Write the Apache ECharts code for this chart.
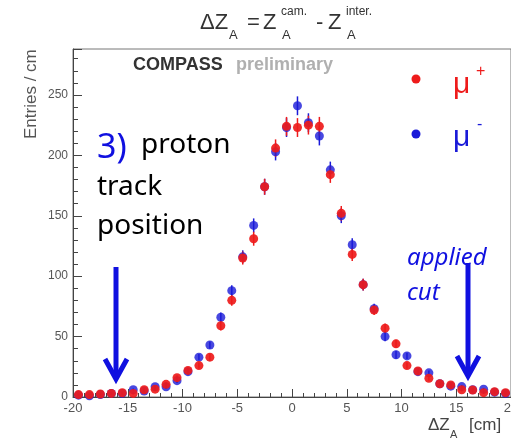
<!DOCTYPE html>
<html>
<head>
<meta charset="utf-8">
<script src="https://cdn.jsdelivr.net/npm/echarts@6/dist/echarts.min.js"></script>
<style>
  html, body { margin: 0; padding: 0; background: #fff; }
  #chart { width: 511px; height: 442px; }
</style>
</head>
<body>
<div id="chart"></div>
<script>
// bin centres (cm), 1 cm bins from -20 to 20
var binCenters = [-19.5, -18.5, -17.5, -16.5, -15.5, -14.5, -13.5, -12.5, -11.5, -10.5,
  -9.5, -8.5, -7.5, -6.5, -5.5, -4.5, -3.5, -2.5, -1.5, -0.5,
  0.5, 1.5, 2.5, 3.5, 4.5, 5.5, 6.5, 7.5, 8.5, 9.5,
  10.5, 11.5, 12.5, 13.5, 14.5, 15.5, 16.5, 17.5, 18.5, 19.5];

// mu+ (red)
var muPlus = [2, 2, 2.5, 3, 3.5, 3, 6, 6.5, 10.5, 16,
  22, 26, 33, 59, 80, 115, 131, 174, 206, 224,
  223, 225, 224, 184, 152, 118, 93, 72, 57, 44,
  26, 21.5, 15.5, 11, 10, 6, 5.8, 3.6, 4.4, 3.6];

// mu- (blue)
var muMinus = [1.5, 1, 2, 3, 3, 6, 5, 8.5, 8.5, 13.5,
  21, 33, 43, 66, 88, 116, 142, 174, 203, 223,
  241, 227, 216, 188, 150, 126, 93, 73, 50, 35,
  34, 21, 20, 11, 9, 8.6, 6, 6.4, 4, 3];

// half length of the error bars
var errBar = [0.8, 0.8, 0.9, 1, 1, 1, 1.3, 1.4, 1.7, 2,
  2.4, 2.6, 3, 3.9, 4.5, 5.4, 5.8, 6.6, 7.2, 7.8,
  7.8, 7.8, 7.8, 6.8, 6.1, 5.4, 4.8, 4.2, 3.8, 3.3,
  2.6, 2.3, 2, 1.7, 1.6, 1.3, 1.2, 1, 1, 1];

var xTicks = [-20, -15, -10, -5, 0, 5, 10, 15, 20];
var yTicks = [0, 50, 100, 150, 200, 250];

var RED = '#ee1b1b';
var BLUE = '#1a1ad8';

function points(vals) {
  return binCenters.map(function (x, i) { return [x, vals[i], errBar[i]]; });
}

function errSeries(vals, color) {
  return {
    type: 'custom',
    silent: true,
    z: 2,
    data: points(vals),
    renderItem: function (params, api) {
      var lo = api.coord([api.value(0), api.value(1) - api.value(2)]);
      var hi = api.coord([api.value(0), api.value(1) + api.value(2)]);
      return {
        type: 'line',
        shape: { x1: lo[0], y1: lo[1], x2: hi[0], y2: hi[1] },
        style: { stroke: color, lineWidth: 1.5 }
      };
    }
  };
}

var axisFont = 'Liberation Sans, Arial, sans-serif';

var myChart = echarts.init(document.getElementById('chart'));

var option = {
  animation: false,
  grid: {
    left: 73, right: 0, top: 49, bottom: 45,
    outerBoundsMode: 'none',
    containLabel: false,
    show: true, borderColor: '#777', borderWidth: 1
  },
  xAxis: {
    type: 'value',
    min: -20, max: 20, interval: 5,
    axisLine: { onZero: false, lineStyle: { color: '#444', width: 1 } },
    axisTick: { inside: true, length: 8, lineStyle: { color: '#444' } },
    minorTick: { show: true, splitNumber: 5, length: 4, lineStyle: { color: '#444' } },
    splitLine: { show: false },
    axisLabel: {
      color: '#555', fontSize: 13, fontFamily: axisFont, margin: 5,
      formatter: function (v) { return xTicks.indexOf(v) >= 0 ? String(v) : ''; }
    }
  },
  yAxis: {
    type: 'value',
    min: 0, max: 288, interval: 50,
    axisLine: { show: true, onZero: false, lineStyle: { color: '#444', width: 1 } },
    axisTick: { show: true, inside: true, length: 9, lineStyle: { color: '#444' } },
    minorTick: { show: true, splitNumber: 5, length: 5, lineStyle: { color: '#444' } },
    splitLine: { show: false },
    axisLabel: {
      color: '#555', fontSize: 12, fontFamily: axisFont, margin: 5,
      formatter: function (v) { return yTicks.indexOf(v) >= 0 ? String(v) : ''; }
    }
  },
  series: [
    errSeries(muMinus, BLUE),
    {
      name: 'mu-', type: 'scatter', z: 3,
      symbol: 'circle', symbolSize: 9,
      itemStyle: { color: BLUE },
      data: points(muMinus)
    },
    errSeries(muPlus, RED),
    {
      name: 'mu+', type: 'scatter', z: 4,
      symbol: 'circle', symbolSize: 9,
      itemStyle: { color: RED, opacity: 0.92 },
      data: points(muPlus)
    }
  ],
  graphic: [
    // title: dZ_A = Z_A^cam. - Z_A^inter.
    { type: 'text', left: 200, top: 12, style: { text: '\u0394Z', font: '22px ' + axisFont, fill: '#333' } },
    { type: 'text', left: 229, top: 29, style: { text: 'A', font: '13px ' + axisFont, fill: '#333' } },
    { type: 'text', left: 247, top: 12, style: { text: '=', font: '22px ' + axisFont, fill: '#333' } },
    { type: 'text', left: 263, top: 12, style: { text: 'Z', font: '22px ' + axisFont, fill: '#333' } },
    { type: 'text', left: 281, top: 6, style: { text: 'cam.', font: '12px ' + axisFont, fill: '#333' } },
    { type: 'text', left: 282, top: 29, style: { text: 'A', font: '13px ' + axisFont, fill: '#333' } },
    { type: 'text', left: 316, top: 12, style: { text: '-', font: '22px ' + axisFont, fill: '#333' } },
    { type: 'text', left: 328, top: 12, style: { text: 'Z', font: '22px ' + axisFont, fill: '#333' } },
    { type: 'text', left: 346, top: 6, style: { text: 'inter.', font: '12px ' + axisFont, fill: '#333' } },
    { type: 'text', left: 347, top: 29, style: { text: 'A', font: '13px ' + axisFont, fill: '#333' } },

    // y axis title
    {
      type: 'text', x: 23, y: 139, rotation: Math.PI / 2,
      style: { text: 'Entries / cm', font: '17px ' + axisFont, fill: '#555', textAlign: 'left', textBaseline: 'top' }
    },
    // x axis title
    { type: 'text', left: 428, top: 417, style: { text: '\u0394Z', font: '17px ' + axisFont, fill: '#444' } },
    { type: 'text', left: 450, top: 429, style: { text: 'A', font: '11px ' + axisFont, fill: '#444' } },
    { type: 'text', left: 469, top: 417, style: { text: '[cm]', font: '17px ' + axisFont, fill: '#444' } },

    // COMPASS preliminary
    { type: 'text', left: 133, top: 56, style: { text: 'COMPASS', font: 'bold 18px ' + axisFont, fill: '#333' } },
    { type: 'text', left: 236, top: 56, style: { text: 'preliminary', font: 'bold 18px ' + axisFont, fill: '#b0b0b0' } },

    // legend
    { type: 'circle', shape: { cx: 416, cy: 79, r: 4.5 }, style: { fill: RED } },
    { type: 'text', left: 453, top: 70, style: { text: '\u03bc', font: '30px ' + axisFont, fill: RED } },
    { type: 'text', left: 476, top: 64, style: { text: '+', font: '16px ' + axisFont, fill: RED } },
    { type: 'circle', shape: { cx: 416, cy: 134, r: 4.5 }, style: { fill: BLUE } },
    { type: 'text', left: 453, top: 123, style: { text: '\u03bc', font: '30px ' + axisFont, fill: BLUE } },
    { type: 'text', left: 477, top: 117, style: { text: '-', font: '16px ' + axisFont, fill: BLUE } },

    // slide annotations
    { type: 'text', x: 97, y: 131, style: { text: '3)', font: '34px Noto Sans', fill: '#1010e0', textBaseline: 'alphabetic' } },
    { type: 'text', x: 141, y: 131, style: { text: 'proton', font: '28px Noto Sans', fill: '#000', textBaseline: 'alphabetic' } },
    { type: 'text', x: 97, y: 173, style: { text: 'track', font: '28px Noto Sans', fill: '#000', textBaseline: 'alphabetic' } },
    { type: 'text', x: 97, y: 212, style: { text: 'position', font: '28px Noto Sans', fill: '#000', textBaseline: 'alphabetic' } },
    { type: 'text', x: 407, y: 246, style: { text: 'applied', font: 'italic 24px Noto Sans', fill: '#1010e0', textBaseline: 'alphabetic' } },
    { type: 'text', x: 407, y: 281, style: { text: 'cut', font: 'italic 24px Noto Sans', fill: '#1010e0', textBaseline: 'alphabetic' } },

    // arrows
    { type: 'line', z: 10, shape: { x1: 116, y1: 267, x2: 116, y2: 378 }, style: { stroke: '#1010e0', lineWidth: 5 } },
    { type: 'polyline', z: 10, shape: { points: [[105, 359], [116, 379], [127, 359]] }, style: { stroke: '#1010e0', lineWidth: 5, fill: null } },
    { type: 'line', z: 10, shape: { x1: 468, y1: 263, x2: 468, y2: 375 }, style: { stroke: '#1010e0', lineWidth: 5 } },
    { type: 'polyline', z: 10, shape: { points: [[457, 356], [468, 376], [479, 356]] }, style: { stroke: '#1010e0', lineWidth: 5, fill: null } }
  ]
};

myChart.setOption(option);
window.addEventListener('resize', function () {
  myChart.resize();
});
</script>
</body>
</html>
